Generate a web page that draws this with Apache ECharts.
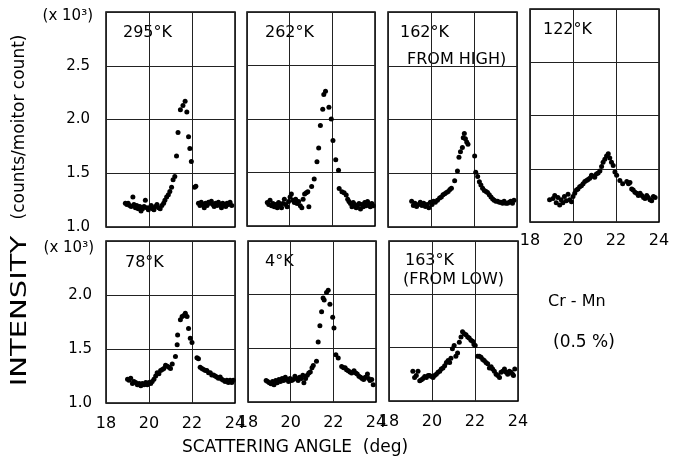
<!DOCTYPE html>
<html>
<head>
<meta charset="utf-8">
<script src="https://cdn.jsdelivr.net/npm/echarts@6/dist/echarts.min.js"></script>
<style>html,body{margin:0;padding:0;background:#fff}#c{width:673px;height:461px}</style>
</head>
<body>
<div id="c"></div>
<script>
// ---- data: [scattering angle (deg), intensity (x10^3)] ----
var t295 = [[18.9,1.22],[18.97,1.21],[19.03,1.22],[19.1,1.20],[19.17,1.19],[19.25,1.28],[19.3,1.21],[19.37,1.18],[19.43,1.20],[19.5,1.17],[19.57,1.19],[19.63,1.15],[19.7,1.17],[19.77,1.19],[19.83,1.25],[19.9,1.18],[19.97,1.16],[20.03,1.18],[20.1,1.20],[20.17,1.17],[20.23,1.16],[20.3,1.19],[20.37,1.21],[20.45,1.18],[20.52,1.17],[20.6,1.20],[20.68,1.22],[20.74,1.25],[20.82,1.28],[20.9,1.30],[20.97,1.33],[21.05,1.37],[21.12,1.44],[21.2,1.47],[21.28,1.66],[21.35,1.88],[21.46,2.09],[21.58,2.13],[21.68,2.17],[21.76,2.07],[21.84,1.84],[21.9,1.73],[21.97,1.61],[22.12,1.37],[22.18,1.38],[22.3,1.22],[22.37,1.20],[22.43,1.23],[22.5,1.21],[22.57,1.18],[22.63,1.22],[22.7,1.20],[22.77,1.23],[22.83,1.22],[22.9,1.24],[22.97,1.21],[23.03,1.19],[23.1,1.22],[23.17,1.20],[23.23,1.23],[23.3,1.21],[23.37,1.18],[23.43,1.22],[23.5,1.20],[23.57,1.19],[23.63,1.22],[23.7,1.21],[23.77,1.23],[23.85,1.20]];
var t262 = [[18.95,1.22],[19.02,1.20],[19.08,1.24],[19.15,1.19],[19.22,1.21],[19.28,1.18],[19.35,1.20],[19.42,1.17],[19.48,1.22],[19.55,1.19],[19.62,1.17],[19.68,1.21],[19.75,1.25],[19.82,1.20],[19.88,1.18],[19.95,1.23],[20.02,1.27],[20.08,1.30],[20.15,1.24],[20.22,1.22],[20.28,1.25],[20.35,1.21],[20.42,1.23],[20.5,1.19],[20.57,1.17],[20.63,1.25],[20.7,1.30],[20.78,1.31],[20.85,1.32],[20.9,1.18],[21.03,1.37],[21.15,1.44],[21.28,1.60],[21.36,1.73],[21.44,1.94],[21.55,2.09],[21.6,2.23],[21.68,2.26],[21.84,2.11],[21.95,2.00],[22.03,1.80],[22.16,1.62],[22.29,1.52],[22.32,1.35],[22.45,1.32],[22.55,1.31],[22.65,1.29],[22.72,1.25],[22.78,1.23],[22.85,1.21],[22.92,1.18],[22.98,1.22],[23.05,1.20],[23.12,1.17],[23.18,1.19],[23.25,1.21],[23.32,1.16],[23.38,1.20],[23.45,1.18],[23.52,1.22],[23.58,1.19],[23.65,1.23],[23.72,1.20],[23.78,1.18],[23.85,1.21],[23.92,1.19]];
var t162 = [[19.1,1.24],[19.18,1.20],[19.25,1.22],[19.33,1.19],[19.42,1.21],[19.5,1.23],[19.58,1.20],[19.66,1.22],[19.74,1.19],[19.82,1.21],[19.9,1.18],[19.97,1.23],[20.05,1.21],[20.12,1.24],[20.2,1.23],[20.3,1.25],[20.4,1.27],[20.48,1.28],[20.56,1.30],[20.64,1.31],[20.72,1.32],[20.8,1.33],[20.88,1.35],[20.95,1.36],[21.1,1.43],[21.23,1.52],[21.3,1.65],[21.37,1.70],[21.46,1.74],[21.5,1.83],[21.55,1.87],[21.6,1.82],[21.66,1.79],[21.72,1.77],[22.03,1.66],[22.08,1.51],[22.17,1.47],[22.25,1.42],[22.32,1.39],[22.4,1.36],[22.48,1.34],[22.56,1.33],[22.63,1.32],[22.71,1.30],[22.79,1.28],[22.87,1.26],[22.94,1.25],[23.02,1.24],[23.1,1.24],[23.18,1.23],[23.25,1.23],[23.33,1.22],[23.4,1.24],[23.48,1.22],[23.56,1.22],[23.64,1.23],[23.71,1.24],[23.79,1.22],[23.86,1.25]];
var t122 = [[18.91,1.21],[19.07,1.22],[19.15,1.25],[19.22,1.18],[19.3,1.23],[19.38,1.16],[19.45,1.21],[19.53,1.18],[19.6,1.24],[19.69,1.20],[19.77,1.26],[19.85,1.21],[19.93,1.19],[20.0,1.24],[20.08,1.27],[20.16,1.30],[20.23,1.31],[20.31,1.33],[20.39,1.34],[20.47,1.36],[20.55,1.38],[20.63,1.39],[20.7,1.40],[20.78,1.41],[20.86,1.44],[20.94,1.43],[21.01,1.42],[21.09,1.45],[21.17,1.46],[21.25,1.48],[21.33,1.52],[21.4,1.56],[21.48,1.59],[21.56,1.62],[21.64,1.64],[21.71,1.60],[21.79,1.56],[21.87,1.53],[21.95,1.47],[22.03,1.44],[22.18,1.39],[22.31,1.36],[22.5,1.38],[22.58,1.36],[22.65,1.37],[22.73,1.31],[22.8,1.30],[22.88,1.28],[22.96,1.27],[23.04,1.25],[23.12,1.27],[23.2,1.25],[23.28,1.23],[23.35,1.22],[23.43,1.25],[23.5,1.23],[23.58,1.21],[23.66,1.20],[23.74,1.24],[23.82,1.23]];
var t78 = [[19.0,1.22],[19.07,1.21],[19.15,1.23],[19.23,1.18],[19.3,1.20],[19.38,1.19],[19.46,1.17],[19.54,1.18],[19.62,1.16],[19.69,1.18],[19.77,1.17],[19.85,1.19],[19.92,1.17],[20.0,1.19],[20.08,1.18],[20.15,1.20],[20.23,1.22],[20.31,1.25],[20.38,1.28],[20.46,1.27],[20.54,1.30],[20.62,1.31],[20.69,1.32],[20.77,1.35],[20.85,1.34],[20.93,1.33],[21.0,1.32],[21.08,1.36],[21.23,1.43],[21.31,1.54],[21.33,1.63],[21.46,1.77],[21.54,1.80],[21.62,1.81],[21.69,1.83],[21.77,1.80],[21.84,1.69],[21.92,1.60],[22.0,1.56],[22.23,1.42],[22.3,1.41],[22.38,1.33],[22.46,1.32],[22.54,1.31],[22.62,1.30],[22.69,1.30],[22.77,1.28],[22.85,1.28],[22.92,1.26],[23.0,1.26],[23.08,1.25],[23.15,1.24],[23.23,1.23],[23.31,1.24],[23.38,1.22],[23.46,1.21],[23.54,1.20],[23.62,1.21],[23.69,1.19],[23.77,1.21],[23.85,1.19],[23.92,1.21]];
var t4 = [[18.85,1.20],[18.92,1.19],[19.0,1.18],[19.08,1.17],[19.15,1.19],[19.22,1.16],[19.3,1.20],[19.37,1.18],[19.45,1.21],[19.52,1.19],[19.6,1.22],[19.67,1.20],[19.75,1.23],[19.82,1.21],[19.9,1.19],[19.97,1.22],[20.05,1.20],[20.12,1.21],[20.2,1.24],[20.27,1.22],[20.35,1.20],[20.42,1.23],[20.5,1.22],[20.57,1.25],[20.62,1.18],[20.7,1.22],[20.78,1.25],[20.85,1.27],[20.92,1.28],[21.0,1.32],[21.06,1.34],[21.21,1.38],[21.29,1.56],[21.37,1.71],[21.45,1.84],[21.52,1.97],[21.57,1.95],[21.68,2.02],[21.76,2.04],[21.84,1.91],[21.97,1.79],[22.03,1.69],[22.12,1.44],[22.23,1.41],[22.39,1.33],[22.48,1.32],[22.55,1.32],[22.62,1.30],[22.7,1.29],[22.78,1.28],[22.86,1.27],[22.97,1.29],[23.05,1.27],[23.12,1.26],[23.2,1.24],[23.28,1.23],[23.35,1.22],[23.42,1.21],[23.5,1.23],[23.6,1.26],[23.65,1.22],[23.72,1.20],[23.8,1.21],[23.87,1.16]];
var t163 = [[19.11,1.28],[19.19,1.22],[19.27,1.24],[19.35,1.28],[19.43,1.19],[19.51,1.20],[19.58,1.21],[19.66,1.23],[19.74,1.22],[19.82,1.24],[19.89,1.24],[19.97,1.23],[20.05,1.22],[20.12,1.24],[20.2,1.25],[20.28,1.27],[20.36,1.28],[20.43,1.30],[20.51,1.31],[20.59,1.33],[20.67,1.36],[20.75,1.38],[20.82,1.36],[20.88,1.40],[20.95,1.49],[21.03,1.52],[21.11,1.42],[21.19,1.45],[21.27,1.55],[21.35,1.60],[21.42,1.65],[21.5,1.63],[21.58,1.62],[21.66,1.60],[21.73,1.59],[21.81,1.57],[21.89,1.56],[21.95,1.53],[22.01,1.52],[22.12,1.42],[22.2,1.42],[22.28,1.41],[22.36,1.39],[22.43,1.38],[22.51,1.36],[22.59,1.35],[22.67,1.31],[22.75,1.32],[22.82,1.30],[22.9,1.28],[22.98,1.25],[23.06,1.24],[23.14,1.22],[23.21,1.27],[23.29,1.28],[23.37,1.30],[23.45,1.27],[23.52,1.25],[23.6,1.28],[23.68,1.27],[23.75,1.25],[23.79,1.24],[23.85,1.30]];

var xTicks = [18, 20, 22, 24];
var yTopMax = 3.0, yBotMax = 2.5;
var panelNames = ['295°K', '262°K', '162°K', '122°K', '78°K', '4°K', '163°K'];
var panelSub = ['', '', 'FROM HIGH)', '', '', '', '(FROM LOW)'];

// ---- layout ----
var FONT = 'DejaVu Sans';
var panels = [
  {d: t295, l: 106, t: 12, w: 129, h: 215, ymax: yTopMax, xl: false, yl: true},
  {d: t262, l: 247, t: 12, w: 128, h: 214, ymax: yTopMax, xl: false, yl: false},
  {d: t162, l: 388, t: 12, w: 129, h: 215, ymax: yTopMax, xl: false, yl: false},
  {d: t122, l: 530, t: 9,  w: 129, h: 213, ymax: yTopMax, xl: true,  yl: false},
  {d: t78,  l: 106, t: 241, w: 129, h: 162, ymax: yBotMax, xl: true, yl: true},
  {d: t4,   l: 248, t: 241, w: 128, h: 161, ymax: yBotMax, xl: true, yl: false},
  {d: t163, l: 389, t: 241, w: 129, h: 160, ymax: yBotMax, xl: true, yl: false}
];
var labelPos = [[123,33],[265,33],[400,33],[543,30],[125,263],[265,262],[405,261]];
var subPos = [null,null,[407,60],null,null,null,[403,280]];

var chart = echarts.init(document.getElementById('c'), null, {renderer: 'canvas'});
var grids = [], xAxes = [], yAxes = [], series = [], graphics = [];
panels.forEach(function (p, i) {
  grids.push({left: p.l, top: p.t, width: p.w, height: p.h, show: true, borderColor: '#000', borderWidth: 1.5, backgroundColor: 'rgba(0,0,0,0)'});
  xAxes.push({
    type: 'value', gridIndex: i, min: xTicks[0], max: xTicks[xTicks.length - 1], interval: 2,
    axisLine: {show: false}, axisTick: {show: false},
    splitLine: {show: true, lineStyle: {color: '#222', width: 1}},
    axisLabel: {show: p.xl, margin: i === 3 ? 11 : 13, fontSize: 16, color: '#000', fontFamily: FONT, showMinLabel: true, showMaxLabel: true}
  });
  yAxes.push({
    type: 'value', gridIndex: i, min: 1.0, max: p.ymax, interval: 0.5,
    axisLine: {show: false}, axisTick: {show: false},
    splitLine: {show: true, lineStyle: {color: '#222', width: 1}},
    axisLabel: {show: p.yl, margin: i === 4 ? 14 : 16, fontSize: 15, color: '#000', fontFamily: FONT,
      formatter: function (v) { return Math.abs(v - p.ymax) < 1e-9 ? '' : v.toFixed(1); }}
  });
  series.push({type: 'scatter', xAxisIndex: i, yAxisIndex: i, data: p.d, symbol: 'circle', symbolSize: 5,
    itemStyle: {color: '#000', opacity: 1}, silent: true});
  graphics.push({type: 'text', x: labelPos[i][0], y: labelPos[i][1],
    style: {text: panelNames[i], font: '16px "' + FONT + '"', fill: '#000', textAlign: 'left', textVerticalAlign: 'middle'}});
  if (subPos[i]) {
    graphics.push({type: 'text', x: subPos[i][0], y: subPos[i][1],
      style: {text: panelSub[i], font: '16px "' + FONT + '"', fill: '#000', textAlign: 'left', textVerticalAlign: 'middle'}});
  }
});
// multiplier labels
graphics.push({type: 'text', x: 93, y: 16, style: {text: '(x 10³)', font: '15px "' + FONT + '"', fill: '#000', textAlign: 'right', textVerticalAlign: 'middle'}});
graphics.push({type: 'text', x: 94, y: 248, style: {text: '(x 10³)', font: '15px "' + FONT + '"', fill: '#000', textAlign: 'right', textVerticalAlign: 'middle'}});
// axis titles
graphics.push({type: 'text', x: 20, y: 311, rotation: Math.PI / 2, scaleX: 1.32,
  style: {text: 'INTENSITY', font: '22px "' + FONT + '"', fill: '#000', textAlign: 'center', textVerticalAlign: 'middle'}});
graphics.push({type: 'text', x: 20, y: 127, rotation: Math.PI / 2,
  style: {text: '(counts/moitor count)', font: '17px "' + FONT + '"', fill: '#000', textAlign: 'center', textVerticalAlign: 'middle'}});
graphics.push({type: 'text', x: 295, y: 448,
  style: {text: 'SCATTERING ANGLE  (deg)', font: '17px "' + FONT + '"', fill: '#000', textAlign: 'center', textVerticalAlign: 'middle'}});
// annotation
graphics.push({type: 'text', x: 548, y: 302, style: {text: 'Cr - Mn', font: '16px "' + FONT + '"', fill: '#000', textAlign: 'left', textVerticalAlign: 'middle'}});
graphics.push({type: 'text', x: 553, y: 343, style: {text: '(0.5 %)', font: '17px "' + FONT + '"', fill: '#000', textAlign: 'left', textVerticalAlign: 'middle'}});

chart.setOption({
  animation: false,
  backgroundColor: '#fff',
  grid: grids, xAxis: xAxes, yAxis: yAxes, series: series,
  graphic: {elements: graphics}
});
</script>
</body>
</html>
